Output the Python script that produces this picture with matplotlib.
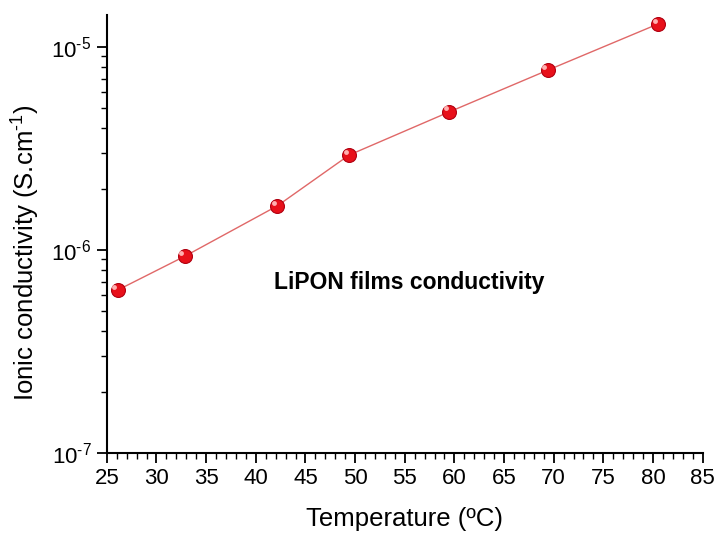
import numpy as np
import matplotlib
matplotlib.use("Agg")
import matplotlib.pyplot as plt
import matplotlib.transforms as mtransforms
from matplotlib.ticker import MultipleLocator, LogLocator, FuncFormatter, NullFormatter

plt.rcParams['font.family'] = ['Liberation Sans', 'DejaVu Sans']
plt.rcParams['mathtext.fontset'] = 'custom'
plt.rcParams['mathtext.rm'] = 'Liberation Sans'
plt.rcParams['mathtext.it'] = 'Liberation Sans:italic'
plt.rcParams['mathtext.bf'] = 'Liberation Sans:bold'

# data
temperature = [26.1, 32.85, 42.15, 49.4, 59.5, 69.4, 80.5]
conductivity = [6.36e-7, 9.33e-7, 1.65e-6, 2.94e-6, 4.80e-6, 7.7e-6, 1.30e-5]


def log_label(v, pos):
    e = int(round(np.log10(v)))
    return r'$10^{\text{-}%d}$' % abs(e) if e < 0 else r'$10^{%d}$' % e


fig = plt.figure(figsize=(7.17, 5.35), dpi=100)
ax = fig.add_axes([0.149, 0.153, 0.831, 0.819])

ax.plot(temperature, conductivity, '-', color='#e06868', lw=1.0, zorder=2)
ax.plot(temperature, conductivity, 'o', ms=10, mfc='#e8101a', mec='#b00010',
        mew=0.8, zorder=3)
# small highlight to mimic the shaded spheres
hl = ax.transData + mtransforms.ScaledTranslation(-2.5 / 72, 2.5 / 72, fig.dpi_scale_trans)
ax.plot(temperature, conductivity, 'o', ms=3.5, mfc='#ffb0b0', mec='none',
        transform=hl, zorder=4)

ax.set_yscale('log')
ax.set_xlim(25, 85)
ax.set_ylim(1e-7, 1.44e-5)

ax.xaxis.set_major_locator(MultipleLocator(5))
ax.xaxis.set_minor_locator(MultipleLocator(1))
ax.yaxis.set_major_locator(LogLocator(base=10))
ax.yaxis.set_minor_locator(LogLocator(base=10, subs=np.arange(2, 10)))
ax.yaxis.set_major_formatter(FuncFormatter(log_label))
ax.yaxis.set_minor_formatter(NullFormatter())

for s in ['top', 'right']:
    ax.spines[s].set_visible(False)
for s in ['left', 'bottom']:
    ax.spines[s].set_linewidth(1.5)

ax.tick_params(which='major', direction='out', length=7, width=1.3, labelsize=16, pad=4)
ax.tick_params(which='minor', direction='out', length=4, width=1.0)

ax.set_xlabel('Temperature (ºC)', fontsize=18.5, labelpad=13)
ax.set_ylabel(r'Ionic conductivity (S.cm$^{\text{-}1}$)', fontsize=18.5)
ax.yaxis.set_label_coords(-0.108, 0.458)

ax.text(55.5, 6.95e-7, 'LiPON films conductivity', fontsize=16.5, fontweight='bold',
        ha='center', va='center')

fig.savefig('out.png', dpi=100)
